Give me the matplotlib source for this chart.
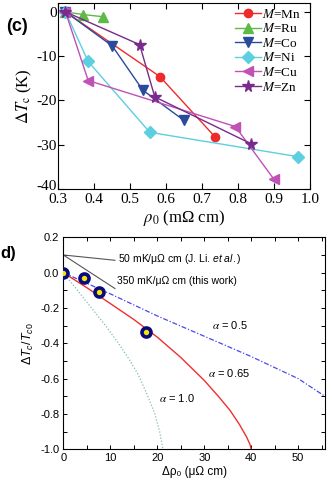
import matplotlib
matplotlib.use("Agg")
import matplotlib.pyplot as plt
from matplotlib.transforms import ScaledTranslation

plt.rcParams['axes.unicode_minus'] = False
plt.rcParams['mathtext.fontset'] = 'custom'
plt.rcParams['mathtext.rm'] = 'Liberation Sans'
plt.rcParams['mathtext.it'] = 'Liberation Sans:italic'

# ---- panel (c): Tc shift vs residual resistivity ----
series = ["Mn", "Ru", "Co", "Ni", "Cu", "Zn"]
rho_mn = [0.32, 0.582, 0.735]
dtc_mn = [0, -14.6, -28.2]
rho_ru = [0.32, 0.368, 0.425]
dtc_ru = [0, -0.6, -1.1]
rho_co = [0.32, 0.45, 0.535, 0.649]
dtc_co = [0, -7.7, -17.7, -24.5]
rho_ni = [0.32, 0.383, 0.554, 0.966]
dtc_ni = [0, -11.2, -27.2, -32.7]
rho_cu = [0.32, 0.383, 0.792, 0.898]
dtc_cu = [0, -15.5, -25.9, -37.7]
rho_zn = [0.32, 0.526, 0.568, 0.836]
dtc_zn = [0, -7.4, -19.2, -29.8]

# ---- panel (d): normalised Tc vs delta rho ----
drho_pts = [0, 4.4, 7.7, 17.7]
tc_pts = [0.0, -0.03, -0.11, -0.338]
a05_x = [0, 10, 20, 30, 40, 50, 55.7]
a05_y = [0, -0.12, -0.245, -0.36, -0.475, -0.6, -0.7]
a065_x = [0, 5, 10, 15, 20, 25, 30, 33, 35.5, 37.5, 39, 39.7, 40]
a065_y = [0, -0.085, -0.175, -0.265, -0.365, -0.48, -0.61, -0.7, -0.78, -0.86, -0.93, -0.97, -1.0]
a10_x = [0, 3, 6, 9, 12, 14, 16, 18, 19.5, 20.5, 21.2]
a10_y = [0, -0.1, -0.2, -0.3, -0.41, -0.49, -0.58, -0.7, -0.8, -0.9, -1.0]
li_x = [0, 11]
li_y = [0.1, 0.07]
tw_x = [0, 11]
tw_y = [0.1, -0.09]

serif = ['Liberation Serif', 'DejaVu Serif']
sans = ['Liberation Sans', 'DejaVu Sans']

fig = plt.figure(figsize=(3.32, 4.86), dpi=100)

# top panel
ax1 = fig.add_axes([0.1756, 0.6111, 0.7590, 0.3827])
styles = [
    (rho_mn, dtc_mn, '#ee2b2b', 'o', 6),
    (rho_ru, dtc_ru, '#5cbb45', '^', 6.5),
    (rho_co, dtc_co, '#2c4a9c', 'v', 6.5),
    (rho_ni, dtc_ni, '#5ccfe0', 'D', 6),
    (rho_cu, dtc_cu, '#c051b5', '<', 6.5),
    (rho_zn, dtc_zn, '#7a2a8c', '*', 8.5),
]
for name, (x, y, c, m, ms) in zip(series, styles):
    ax1.plot(x, y, color=c, marker=m, ms=ms, lw=1.0, mec=c, mfc=c,
             label=r'$M$=' + name)
ax1.set_xlim(0.3, 1.0)
ax1.set_ylim(-40, 2)
ax1.set_xticks([0.3, 0.4, 0.5, 0.6, 0.7, 0.8, 0.9, 1.0])
ax1.set_yticks([0, -10, -20, -30, -40])
ax1.tick_params(direction='in', top=True, right=True, length=4, width=0.8,
                labelsize=11, pad=3)
ax1.tick_params(axis='y', pad=1)
for lab in ax1.get_xticklabels() + ax1.get_yticklabels():
    lab.set_family(serif)
# lift the "-40" a little so it clears "0.3"
low = ax1.get_yticklabels()[-1]
low.set_transform(low.get_transform() + ScaledTranslation(0, 3 / 72, fig.dpi_scale_trans))
ax1.set_xlabel(r'$\rho_0$ (mΩ cm)', fontsize=12, family=serif,
               math_fontfamily='stix', labelpad=1)
ax1.set_ylabel(r'$\Delta T_{\rm c}$ (K)', fontsize=12, family=serif,
               math_fontfamily='stix', labelpad=2)
leg = ax1.legend(loc='upper left', bbox_to_anchor=(0.70, 0.975), frameon=False,
                 prop={'family': serif, 'size': 9.5}, handlelength=2.0,
                 handletextpad=0.1, labelspacing=0.12, borderpad=0,
                 borderaxespad=0)
for t in leg.get_texts():
    t.set_math_fontfamily('stix')
fig.text(0.018, 0.946, '(c)', fontsize=13, fontweight='bold', family=sans,
         va='center')

# bottom panel
ax2 = fig.add_axes([0.1907, 0.0755, 0.7882, 0.4362])
ax2.plot(li_x, li_y, color='#555555', lw=0.8)
ax2.plot(tw_x, tw_y, color='#555555', lw=0.8)
ax2.plot(a10_x, a10_y, color='#7fbfb0', lw=0.9, ls=(0, (1, 1.5)))
ax2.plot(a05_x, a05_y, color='#4a4ae8', lw=0.9, ls=(0, (4, 1.5, 1, 1.5)))
ax2.plot(a065_x, a065_y, color='#ee3030', lw=1.0)
ax2.plot(drho_pts, tc_pts, ls='none', marker='o', ms=6.5, mfc='#f5e800',
         mec='#0a0a80', mew=2.6, zorder=5)
ax2.set_xlim(0, 55.7)
ax2.set_ylim(-1.0, 0.2)
ax2.set_xticks([0, 10, 20, 30, 40, 50])
ax2.set_xticks([5, 15, 25, 35, 45, 55], minor=True)
ax2.set_yticks([0.2, 0.0, -0.2, -0.4, -0.6, -0.8, -1.0])
ax2.set_yticks([0.1, -0.1, -0.3, -0.5, -0.7, -0.9], minor=True)
ax2.set_yticklabels(['0.2', '0.0', '-0.2', '-0.4', '-0.6', '-0.8', '-1.0'])
ax2.tick_params(which='both', direction='in', top=True, right=True,
                length=3, width=0.7, labelsize=8, pad=3)
for lab in ax2.get_xticklabels() + ax2.get_yticklabels():
    lab.set_family(sans)
ax2.set_xlabel('Δρ₀ (μΩ cm)', fontsize=8.5, family=sans, labelpad=2)
ax2.set_ylabel(r'$\Delta T_c/T_{c0}$', fontsize=9, family=sans, labelpad=3)
ax2.text(11.7, 0.077, r'50 mK/μΩ cm (J. Li. $et\ al.$)', fontsize=7.5,
         family=sans, va='center')
ax2.text(11.4, -0.046, '350 mK/μΩ cm (this work)', fontsize=7.5,
         family=sans, va='center')
ax2.text(31.6, -0.296, r'$\alpha$ = 0.5', fontsize=8, family=sans,
         va='center', math_fontfamily='stix')
ax2.text(30.9, -0.566, r'$\alpha$ = 0.65', fontsize=8, family=sans,
         va='center', math_fontfamily='stix')
ax2.text(20.4, -0.711, r'$\alpha$ = 1.0', fontsize=8, family=sans,
         va='center', math_fontfamily='stix')
fig.text(0.0, 0.479, 'd)', fontsize=12, fontweight='bold', family=sans,
         va='center')

fig.savefig('out.png', dpi=100)
